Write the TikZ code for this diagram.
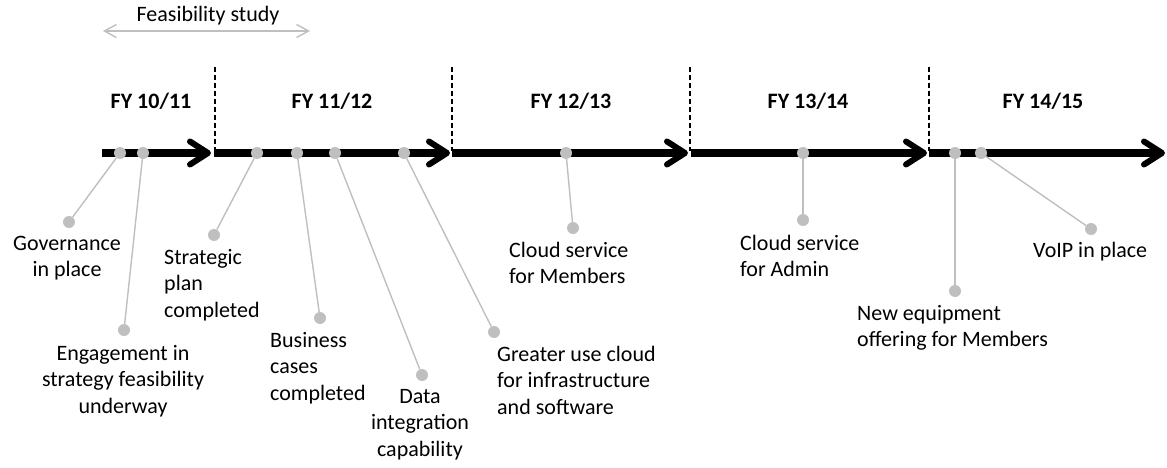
\documentclass[tikz,border=0pt]{standalone}
\usepackage{fontspec}
\setmainfont{Carlito}
\usetikzlibrary{arrows.meta,calc}
\definecolor{gray75}{HTML}{BFBFBF}
\begin{document}
\begin{tikzpicture}[x=1pt,y=-1pt,
  every node/.style={font=\fontsize{22}{26.7}\selectfont, inner sep=0pt, text=black},
  lbl/.style={align=left, anchor=base west},
  lblc/.style={align=center, anchor=base},
  fy/.style={font=\fontsize{22}{26.7}\selectfont\bfseries, anchor=base},
  tline/.style={line width=7pt},
  chev/.style={line width=6pt, line cap=round, line join=round},
  sepline/.style={dash pattern=on 5pt off 3pt, line width=1.2pt},
  conn/.style={draw=gray75, line width=1.4pt},
  dot/.style={circle, fill=gray75, minimum size=12pt, inner sep=0pt},
]
\useasboundingbox (0,0) rectangle (1167,468);

% Feasibility study
\node[anchor=base] (fs) at (208,22) {Feasibility study};
\coordinate (fa) at (103,31);
\coordinate (fb) at (310,31);
\draw[conn, {Straight Barb[length=12pt,width=13pt]}-{Straight Barb[length=12pt,width=13pt]}] (fa) -- (fb);

% FY labels
\node[fy] (fy1) at (151,109) {FY 10/11};
\node[fy] (fy2) at (332,109) {FY 11/12};
\node[fy] (fy3) at (571,109) {FY 12/13};
\node[fy] (fy4) at (808,109) {FY 13/14};
\node[fy] (fy5) at (1043,109) {FY 14/15};

% separators
\foreach \i/\x in {1/215,2/452,3/690,4/929}{
  \coordinate (d\i t) at (\x,67);
  \coordinate (d\i b) at (\x,151);
  \draw[sepline] (d\i t) -- (d\i b);
}

% timeline segments
\foreach \i/\s/\t in {1/102/212,2/214/451,3/452/689,4/691/928,5/929/1166}{
  \coordinate (s\i) at (\s,153);
  \coordinate (t\i) at (\t,153);
  \draw[tline] (s\i) -- ($(t\i)+(-5,0)$);
  \draw[chev] ($(t\i)+(-22,-11.5)$) -- ($(t\i)+(-4,0)$) -- ($(t\i)+(-22,11.5)$);
}

% dots on the line
\node[dot] (a1) at (120,153) {};
\node[dot] (a2) at (143,153) {};
\node[dot] (a3) at (257,153) {};
\node[dot] (a4) at (297,153) {};
\node[dot] (a5) at (335,153) {};
\node[dot] (a6) at (404,153) {};
\node[dot] (a7) at (566,153) {};
\node[dot] (a8) at (803,153) {};
\node[dot] (a9) at (955,153) {};
\node[dot] (a10) at (981,153) {};

% end dots
\node[dot] (b1) at (69,222) {};
\node[dot] (b2) at (124,330) {};
\node[dot] (b3) at (214,235) {};
\node[dot] (b4) at (320,318) {};
\node[dot] (b5) at (422,375) {};
\node[dot] (b6) at (494,332) {};
\node[dot] (b7) at (573,228) {};
\node[dot] (b8) at (803,220) {};
\node[dot] (b9) at (955,291) {};
\node[dot] (b10) at (1091,229) {};

\foreach \i in {1,...,10}{ \draw[conn] (a\i) -- (b\i); }

% labels (base anchor = baseline of last line)
\node[lblc] (l1) at (67,276.7) {Governance\\in place};
\node[lblc] (l2) at (123,413.4) {Engagement in\\strategy feasibility\\underway};
\node[lbl] (l3) at (164,317.4) {Strategic\\plan\\completed};
\node[lbl] (l4) at (270,400.4) {Business\\cases\\completed};
\node[lblc] (l5) at (420,456.4) {Data\\integration\\capability};
\node[lbl] (l6) at (497,414.4) {Greater use cloud\\for infrastructure\\and software};
\node[lbl] (l7) at (509,283.7) {Cloud service\\for Members};
\node[lbl] (l8) at (740,276.7) {Cloud service\\for Admin};
\node[lbl] (l9) at (857,346.7) {New equipment\\offering for Members};
\node[lbl] (l10) at (1033,257) {VoIP in place};
\end{tikzpicture}
\end{document}
